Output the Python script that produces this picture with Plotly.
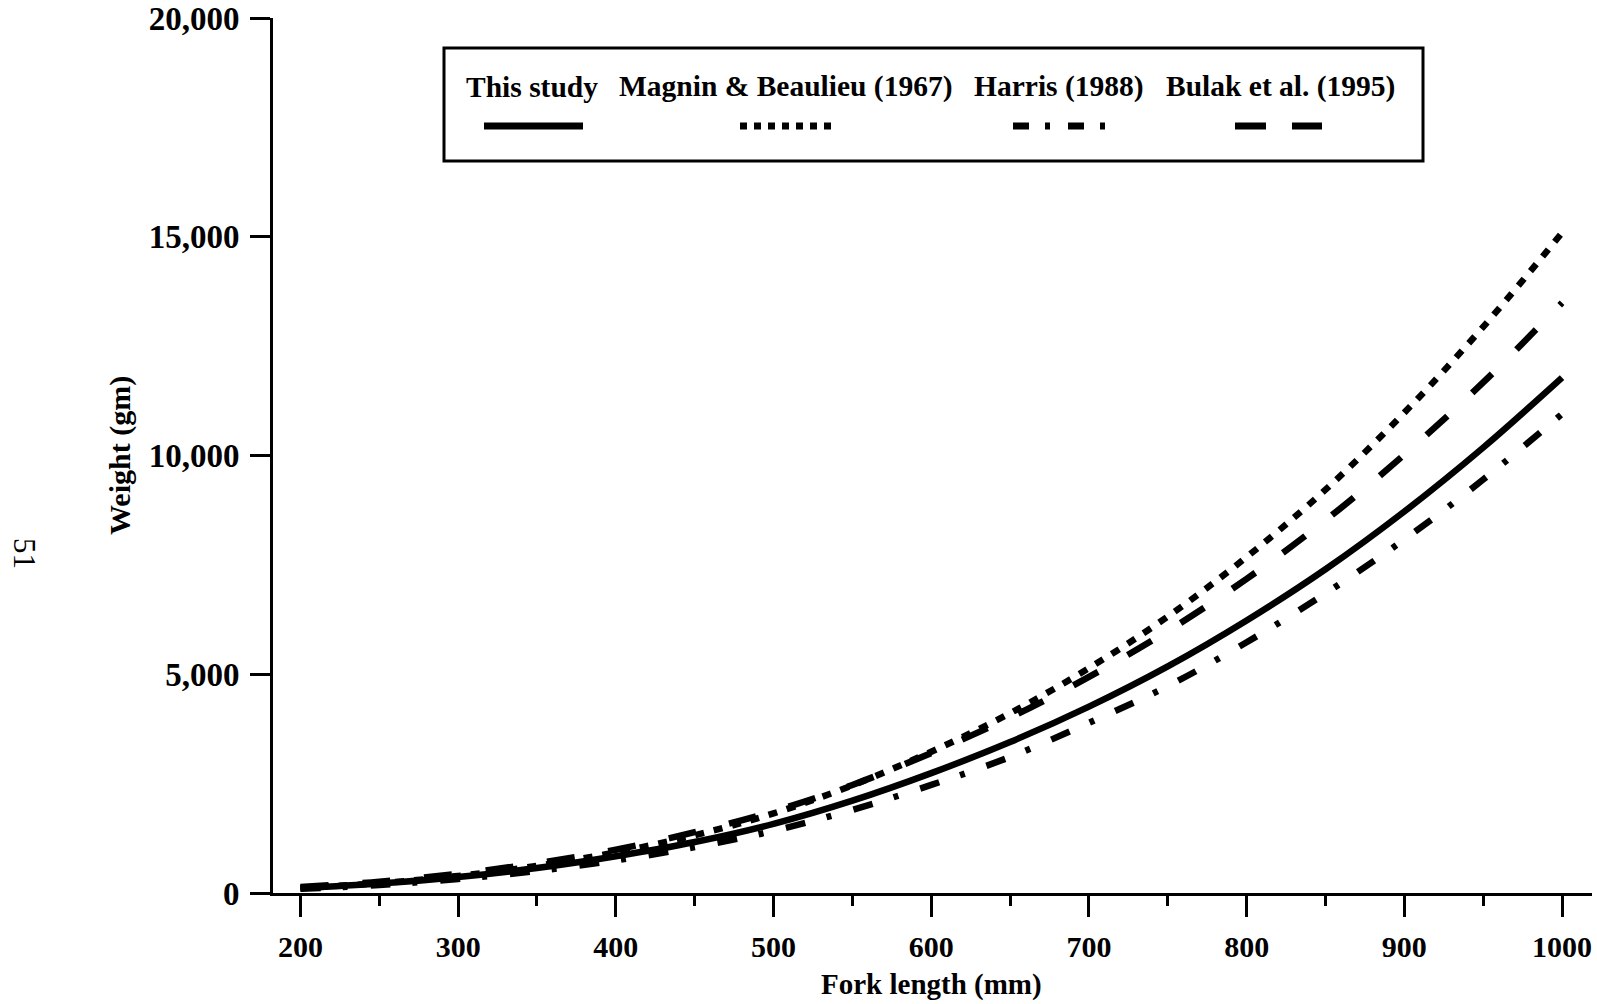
import plotly.graph_objects as go

fork_length = [200, 250, 300, 350, 400, 450, 500, 550, 600,
               650, 700, 750, 800, 850, 900, 950, 1000]

# Weight (gm) for each study.
this_study = [110, 215, 365, 570, 840, 1165, 1580, 2110, 2740,
              3450, 4260, 5180, 6230, 7400, 8720, 10180, 11780]
magnin_beaulieu = [115, 225, 390, 620, 930, 1320, 1820, 2460, 3230,
                   4110, 5140, 6320, 7680, 9220, 10980, 12940, 15090]
harris = [95, 185, 320, 505, 745, 1050, 1420, 1900, 2470,
          3110, 3890, 4730, 5730, 6850, 8080, 9450, 10950]
bulak = [140, 260, 440, 680, 990, 1390, 1870, 2470, 3200,
         4010, 4940, 5990, 7180, 8520, 10020, 11670, 13490]

series_names = ['This study', 'Magnin & Beaulieu (1967)',
                'Harris (1988)', 'Bulak et al. (1995)']
x_ticks = [200, 300, 400, 500, 600, 700, 800, 900, 1000]
x_minor = [250, 350, 450, 550, 650, 750, 850, 950]
y_ticks = [0, 5000, 10000, 15000, 20000]

FONT = 'Liberation Serif'
W, H = 1597, 1004
# plot area in page pixels
L, R, T, B = 273, 1592, 18, 893

dashes = ['solid', '9px,10px', '20px,22px,5px,23px', '28px,34px']
curves = [this_study, magnin_beaulieu, harris, bulak]


def px(x):
    return (x - L) / (R - L)


def py(y):
    return (B - y) / (B - T)


fig = go.Figure()

for name, ys, dash in zip(series_names, curves, dashes):
    fig.add_trace(go.Scatter(x=fork_length, y=ys, name=name, mode='lines',
                             line=dict(color='black', width=6.5, dash=dash,
                                       shape='spline'),
                             showlegend=False))

# Hand-made legend: text above the line samples, inside a framed box.
shapes = [dict(type='rect', xref='paper', yref='paper',
               x0=px(444), x1=px(1423), y0=py(161), y1=py(48),
               line=dict(color='black', width=3), fillcolor='white',
               layer='above')]
annotations = []
legend_cx = [532, 786, 1059, 1280]
sample_x = [(484, 583), (740, 837), (1013, 1112), (1235, 1322)]
sample_dash = ['solid', '7px,7px', '16px,16px,5px,18px', '31px,26px']
for name, cx, (sx0, sx1), dash in zip(series_names, legend_cx, sample_x,
                                      sample_dash):
    annotations.append(dict(text='<b>%s</b>' % name, xref='paper',
                            yref='paper', x=px(cx), y=py(87),
                            showarrow=False, xanchor='center',
                            yanchor='middle',
                            font=dict(family=FONT, size=29.5, color='black')))
    shapes.append(dict(type='line', xref='paper', yref='paper',
                       x0=px(sx0), x1=px(sx1), y0=py(126), y1=py(126),
                       line=dict(color='black', width=7, dash=dash),
                       layer='above'))

annotations.append(dict(text='<b>Fork length (mm)</b>', xref='paper',
                        yref='paper', x=px(931), y=py(984), showarrow=False,
                        xanchor='center', yanchor='middle',
                        font=dict(family=FONT, size=29, color='black')))
annotations.append(dict(text='<b>Weight (gm)</b>', xref='paper',
                        yref='paper', x=px(120), y=py(456), showarrow=False,
                        textangle=-90, xanchor='center', yanchor='middle',
                        font=dict(family=FONT, size=30, color='black')))
# page number of the scanned thesis page
annotations.append(dict(text='51', xref='paper', yref='paper',
                        x=px(25), y=py(553), showarrow=False, textangle=90,
                        xanchor='center', yanchor='middle',
                        font=dict(family=FONT, size=31, color='black')))

fig.update_layout(width=W, height=H,
                  margin=dict(l=L, r=W - R, t=T, b=H - B, autoexpand=False),
                  paper_bgcolor='white', plot_bgcolor='white',
                  shapes=shapes, annotations=annotations,
                  font=dict(family=FONT, color='black'))
fig.update_xaxes(range=[182.6, 1019], tickvals=x_ticks, automargin=False,
                 ticks='outside', ticklen=21, tickwidth=3,
                 tickcolor='black', showline=True, linewidth=3,
                 linecolor='black', showgrid=False, zeroline=False,
                 ticklabelstandoff=4, ticklabeloverflow='allow',
                 tickfont=dict(family=FONT, size=30, weight='bold'),
                 minor=dict(tickvals=x_minor, ticks='outside', ticklen=10,
                            tickwidth=3, tickcolor='black', showgrid=False))
fig.update_yaxes(range=[0, 20000], tickvals=y_ticks, tickformat=',d',
                 automargin=False,
                 ticks='outside', ticklen=20, tickwidth=3,
                 tickcolor='black', showline=True, linewidth=3,
                 linecolor='black', showgrid=False, zeroline=False,
                 ticklabelstandoff=4, ticklabeloverflow='allow',
                 tickfont=dict(family=FONT, size=33, weight='bold'))

# drop the page's default 8px body margin so the figure fills the window
fig.write_html('out.html', config={'displayModeBar': False},
               post_script="document.body.style.margin = '0px';")
